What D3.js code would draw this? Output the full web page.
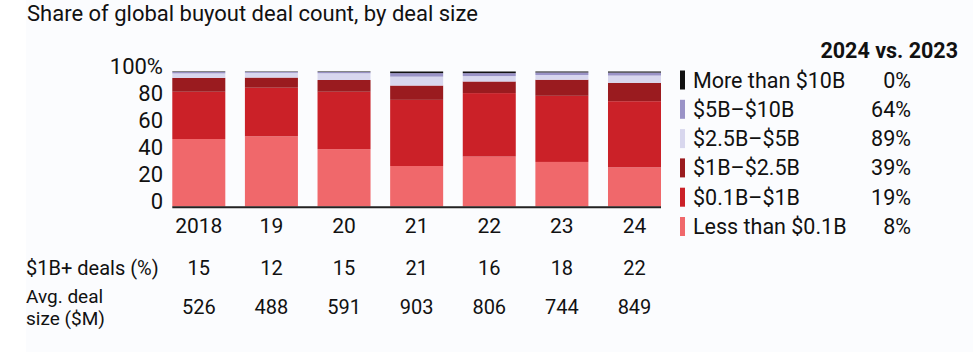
<!DOCTYPE html>
<html>
<head>
<meta charset="utf-8">
<script src="https://cdn.jsdelivr.net/npm/d3@7"></script>
<style>
  body { margin: 0; background: #fff; }
  svg { display: block; font-family: Roboto, "Liberation Sans", sans-serif; }
</style>
</head>
<body>
<svg width="973" height="352"></svg>
<script>
// share of deal count by size band (%)
var years = ["2018", "19", "20", "21", "22", "23", "24"];
var lessThan01 = [50, 52, 42.5, 30, 37, 33, 29];
var from01to1 = [35, 36, 42.5, 49, 47, 49, 49];
var from1to25 = [10.3, 7.5, 8.7, 10.6, 8.6, 11.9, 13.6];
var from25to5 = [3.3, 3.5, 5.0, 6.6, 4.0, 3.5, 5.4];
var from5to10 = [1.0, 0.7, 0.9, 2.6, 2.2, 1.9, 2.2];
var moreThan10 = [0.4, 0.3, 0.4, 1.2, 1.2, 0.7, 0.8];

var seriesNames = ["Less than $0.1B", "$0.1B\u2013$1B", "$1B\u2013$2.5B", "$2.5B\u2013$5B", "$5B\u2013$10B", "More than $10B"];
var seriesColors = ["#f0686b", "#cb2128", "#9a1b1f", "#d8d7ee", "#9a93c7", "#111111"];
var change = ["8%", "19%", "39%", "89%", "64%", "0%"];

var yTicks = [0, 20, 40, 60, 80, 100];
var bigDeals = ["15", "12", "15", "21", "16", "18", "22"];
var avgSize = ["526", "488", "591", "903", "806", "744", "849"];

var allSeries = [lessThan01, from01to1, from1to25, from25to5, from5to10, moreThan10];
var rows = years.map(function(y, i) {
  var r = { year: y };
  allSeries.forEach(function(s, k) { r["s" + k] = s[i]; });
  return r;
});

var svg = d3.select("svg");

// faint panel behind everything
svg.append("rect")
  .attr("x", 26).attr("y", 0).attr("width", 947).attr("height", 352)
  .attr("fill", "#fbfcfe");

svg.append("text")
  .attr("x", 27).attr("y", 21)
  .attr("font-size", 22).attr("fill", "#111")
  .text("Share of global buyout deal count, by deal size");

var x = d3.scaleBand()
  .domain(years)
  .range([172.3, 661])
  .paddingInner(0.27)
  .paddingOuter(0);

var y = d3.scaleLinear()
  .domain([0, 100])
  .range([206.5, 71.5]);

var stack = d3.stack().keys(allSeries.map(function(s, k) { return "s" + k; }));
var layers = stack(rows);

var g = svg.append("g");

g.selectAll("g.layer")
  .data(layers)
  .enter().append("g")
    .attr("class", "layer")
    .attr("fill", function(d, k) { return seriesColors[k]; })
  .selectAll("rect")
  .data(function(d) { return d; })
  .enter().append("rect")
    .attr("x", function(d) { return x(d.data.year); })
    .attr("width", x.bandwidth())
    .attr("y", function(d) { return y(d[1]); })
    .attr("height", function(d) { return y(d[0]) - y(d[1]); });

// baseline
g.append("line")
  .attr("x1", x.range()[0]).attr("x2", x.range()[1])
  .attr("y1", 207.3).attr("y2", 207.3)
  .attr("stroke", "#222").attr("stroke-width", 2);

// y tick labels
svg.append("g").selectAll("text")
  .data(yTicks)
  .enter().append("text")
    .attr("x", 163)
    .attr("y", function(d) { return y(d) + 2; })
    .attr("text-anchor", "end")
    .attr("font-size", 22).attr("fill", "#111")
    .text(function(d) { return d === 100 ? "100%" : d; });

// x labels
svg.append("g").selectAll("text")
  .data(years)
  .enter().append("text")
    .attr("x", function(d) { return x(d) + x.bandwidth() / 2; })
    .attr("y", 233)
    .attr("text-anchor", "middle")
    .attr("font-size", 21).attr("fill", "#111")
    .text(function(d) { return d; });

// legend
var legend = svg.append("g");
legend.append("text")
  .attr("x", 958).attr("y", 58)
  .attr("text-anchor", "end")
  .attr("font-size", 21.5).attr("font-weight", "bold").attr("fill", "#111")
  .text("2024 vs. 2023");

var order = d3.range(seriesNames.length).reverse();
var item = legend.selectAll("g.item")
  .data(order)
  .enter().append("g")
    .attr("class", "item")
    .attr("transform", function(k, i) { return "translate(0," + (80 + i * 29.3) + ")"; });

item.append("rect")
  .attr("x", 680).attr("y", -9.5)
  .attr("width", 5).attr("height", 19)
  .attr("fill", function(k) { return seriesColors[k]; });

item.append("text")
  .attr("x", 693).attr("y", 7.5)
  .attr("font-size", 21.5).attr("fill", "#111")
  .text(function(k) { return seriesNames[k]; });

item.append("text")
  .attr("x", 911).attr("y", 7.5)
  .attr("text-anchor", "end")
  .attr("font-size", 21.5).attr("fill", "#111")
  .text(function(k) { return change[k]; });

// bottom rows
var table = svg.append("g").attr("font-size", 20).attr("fill", "#111");
table.append("text").attr("x", 26).attr("y", 275).text("$1B+ deals (%)");
table.append("text").attr("x", 26).attr("y", 302.5).attr("font-size", 19).text("Avg. deal");
table.append("text").attr("x", 26).attr("y", 325).attr("font-size", 19).text("size ($M)");

table.selectAll("text.big")
  .data(bigDeals)
  .enter().append("text")
    .attr("class", "big")
    .attr("x", function(d, i) { return x(years[i]) + x.bandwidth() / 2; })
    .attr("y", 275)
    .attr("text-anchor", "middle")
    .text(function(d) { return d; });

table.selectAll("text.avg")
  .data(avgSize)
  .enter().append("text")
    .attr("class", "avg")
    .attr("x", function(d, i) { return x(years[i]) + x.bandwidth() / 2; })
    .attr("y", 314)
    .attr("text-anchor", "middle")
    .text(function(d) { return d; });
</script>
</body>
</html>
